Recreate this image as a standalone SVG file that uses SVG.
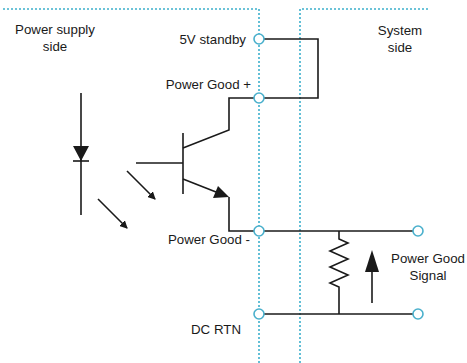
<svg xmlns="http://www.w3.org/2000/svg" width="467" height="363" viewBox="0 0 467 363">
<style>
.b{fill:none;stroke:#3cb0cc;stroke-width:1.6;stroke-dasharray:2 2}
.w{fill:none;stroke:#1a1a1a;stroke-width:1.6}
.t{fill:#fff;stroke:#4ab0cc;stroke-width:1.6}
text{font-family:"Liberation Sans",Arial,sans-serif;font-size:13.3px;fill:#1a1a1a}
.ah{fill:#1a1a1a}
</style>
<defs>
<marker id="a" markerWidth="8" markerHeight="8" refX="7" refY="4" orient="auto" markerUnits="userSpaceOnUse">
<path d="M0,0 L8,4 L0,8 Z" class="ah"/>
</marker>
</defs>
<g id="boundaries">
<path class="b" d="M3,9 H259 V363"/>
<path class="b" d="M428,9 H300 V363"/>
</g>
<g id="connectors">
<path class="w" d="M264,39 H318 V98 H264"/>
<path class="w" d="M254,98 H229 V130 L183,148"/>
<path class="w" d="M183,179 L216,192"/>
<path d="M229,197 L213,198 L218,186 Z" class="ah"/>
<path class="w" d="M229,197 V231 H254"/>
<path class="w" d="M264,231 H413"/>
<path class="w" d="M264,314 H413"/>
<path class="w" d="M339,231 V239 L348,243 L330,251 L348,259 L330,267 L348,275 L330,283 L339,287 V314"/>
<path class="w" d="M372,303 V268"/>
<path d="M372,250 L379,272 L365,272 Z" class="ah"/>
</g>
<g id="transistor">
<path class="w" d="M183,133 V194"/>
<path class="w" d="M136,163 H183"/>
</g>
<g id="led">
<path class="w" d="M81,93 V215"/>
<path d="M73,146 L89,146 L81,161 Z" class="ah"/>
<path class="w" d="M73,161 H89"/>
<path class="w" d="M127,171 L155,199" marker-end="url(#a)"/>
<path class="w" d="M98,199 L127,228" marker-end="url(#a)"/>
</g>
<g id="terminals">
<circle class="t" cx="259" cy="39" r="5"/>
<circle class="t" cx="259" cy="98" r="5"/>
<circle class="t" cx="259" cy="231" r="5"/>
<circle class="t" cx="259" cy="314" r="5"/>
<circle class="t" cx="418" cy="231" r="5"/>
<circle class="t" cx="418" cy="314" r="5"/>
</g>
<g id="labels">
<text x="55" y="34" text-anchor="middle">Power supply</text>
<text x="55" y="51" text-anchor="middle">side</text>
<text x="400" y="35" text-anchor="middle">System</text>
<text x="400" y="52" text-anchor="middle">side</text>
<text x="246" y="44" text-anchor="end">5V standby</text>
<text x="251" y="89" text-anchor="end">Power Good +</text>
<text x="250" y="244" text-anchor="end">Power Good -</text>
<text x="241" y="334" text-anchor="end">DC RTN</text>
<text x="428" y="263" text-anchor="middle">Power Good</text>
<text x="428" y="280" text-anchor="middle">Signal</text>
</g>
</svg>
